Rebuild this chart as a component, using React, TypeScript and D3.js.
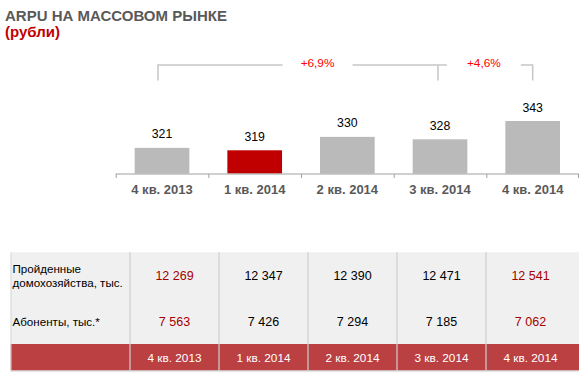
import React from "react";
import * as d3 from "d3";

const categories = ["4 кв. 2013", "1 кв. 2014", "2 кв. 2014", "3 кв. 2014", "4 кв. 2014"];
const arpu = [321, 319, 330, 328, 343];
const highlighted = [false, true, false, false, false];
const growthLabels = ["+6,9%", "+4,6%"];
const households = ["12 269", "12 347", "12 390", "12 471", "12 541"];
const subscribers = ["7 563", "7 426", "7 294", "7 185", "7 062"];
const redValueCols = [true, false, false, false, true];
const rowLabels1 = ["Пройденные", "домохозяйства, тыс."];
const rowLabel2 = "Абоненты, тыс.*";

const W = 579;
const H = 372;
const FONT = "'Liberation Sans', Arial, sans-serif";

export default function App() {
  const x = d3.scaleBand<string>().domain(categories).range([115.7, 579]).padding(0);
  const y = d3.scaleLinear().domain([300, 343]).range([173.5, 121]);
  const barW = x.bandwidth() * 0.59;
  const cx = (i: number) => (x(categories[i]) as number) + x.bandwidth() / 2;

  // table columns
  const tx = d3.scaleBand<string>().domain(categories).range([130, 575]).padding(0);
  const tcx = (i: number) => (tx(categories[i]) as number) + tx.bandwidth() / 2;

  const bracketY = 65;
  const legBottom = 80.5;
  const leg0 = cx(0) - 4;
  const leg3 = cx(3) - 2;
  const leg4 = cx(4);
  const t1 = (x(categories[2]) as number) + 16.5;
  const t2 = (leg3 + leg4) / 2 - 1.5;
  const gap1 = 35;
  const gap2 = 37;
  const lineColor = "#c6c6c6";

  return (
    <div style={{ position: "absolute", left: 0, top: 0 }}>
      <svg width={W} height={H} style={{ display: "block", fontFamily: FONT }}>
        <rect x={0} y={0} width={W} height={H} fill="#ffffff" />
        {/* Title */}
        <text x={5} y={21} fontSize={15} fontWeight="bold" fill="#595959">ARPU НА МАССОВОМ РЫНКЕ</text>
        <text x={5} y={37} fontSize={15} fontWeight="bold" fill="#c00000">(рубли)</text>

        {/* Brackets */}
        <g stroke={lineColor} strokeWidth={1.5} fill="none">
          <path d={`M${leg0},${legBottom}V${bracketY}H${t1 - gap1}`} />
          <path d={`M${t1 + gap1},${bracketY}H${t2 - gap2}`} />
          <path d={`M${leg3},${legBottom}V${bracketY}`} />
          <path d={`M${t2 + gap2},${bracketY}H${leg4}V${legBottom}`} />
        </g>
        <text x={t1} y={66.5} fontSize={11.8} fill="#ff0000" textAnchor="middle">{growthLabels[0]}</text>
        <text x={t2} y={66.5} fontSize={11.8} fill="#ff0000" textAnchor="middle">{growthLabels[1]}</text>

        {/* Bars */}
        {arpu.map((v, i) => (
          <g key={categories[i]}>
            <rect
              x={cx(i) - barW / 2}
              y={y(v)}
              width={barW}
              height={y(300) - y(v)}
              fill={highlighted[i] ? "#c00000" : "#bababa"}
            />
            <text x={cx(i)} y={y(v) - 9.5} fontSize={12.3} fill="#000" textAnchor="middle">{v}</text>
          </g>
        ))}

        {/* Axis */}
        <g stroke="#a0a0a0" strokeWidth={1}>
          <line x1={115.7} x2={579} y1={174} y2={174} />
          {categories.map((c) => (
            <line key={c} x1={(x(c) as number) + 0.5} x2={(x(c) as number) + 0.5} y1={174} y2={178} />
          ))}
          <line x1={578.5} x2={578.5} y1={174} y2={178} />
        </g>
        {categories.map((c, i) => (
          <text key={c} x={cx(i)} y={194} fontSize={13} fontWeight="bold" fill="#595959" textAnchor="middle">{c}</text>
        ))}

        {/* Table */}
        <rect x={10.7} y={252.3} width={W - 10.7} height={344 - 252.3} fill="#f0f0f0" />
        <rect x={10.7} y={344} width={W - 10.7} height={26.5} fill="#bb4042" />
        <line x1={10.7} x2={W} y1={371} y2={371} stroke="#cccccc" strokeWidth={1} />
        <line x1={11} x2={11} y1={252.3} y2={371} stroke="#d6d6d6" strokeWidth={1} />
        {categories.map((c) => (
          <line key={c} x1={(tx(c) as number)} x2={(tx(c) as number)} y1={252.3} y2={371} stroke="#cfcfcf" strokeWidth={1.2} />
        ))}

        <text x={12.5} y={273} fontSize={11.6} fill="#000">{rowLabels1[0]}</text>
        <text x={12.5} y={286.7} fontSize={11.6} fill="#000">{rowLabels1[1]}</text>
        <text x={12.5} y={326} fontSize={11.6} fill="#000">{rowLabel2}</text>

        {households.map((v, i) => (
          <text key={"h" + i} x={tcx(i)} y={280} fontSize={12.5} textAnchor="middle" fill={redValueCols[i] ? "#a50000" : "#000"}>{v}</text>
        ))}
        {subscribers.map((v, i) => (
          <text key={"s" + i} x={tcx(i)} y={325.7} fontSize={12.5} textAnchor="middle" fill={redValueCols[i] ? "#a50000" : "#000"}>{v}</text>
        ))}
        {categories.map((c, i) => (
          <text key={"r" + c} x={tcx(i)} y={362} fontSize={11.8} textAnchor="middle" fill="#ffffff">{c}</text>
        ))}
      </svg>
    </div>
  );
}
